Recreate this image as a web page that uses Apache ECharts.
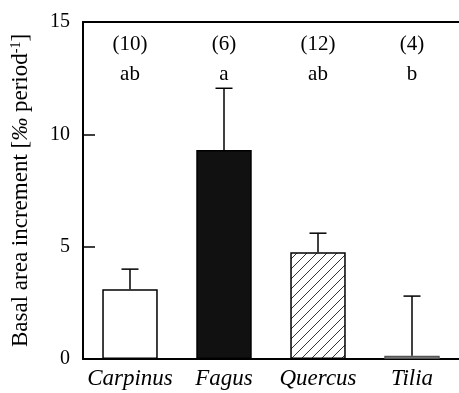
<!DOCTYPE html>
<html>
<head>
<meta charset="utf-8">
<script src="https://cdn.jsdelivr.net/npm/echarts@6/dist/echarts.min.js"></script>
<style>
  html, body { margin: 0; padding: 0; background: #fff; }
  #plot { width: 459px; height: 393px; }
</style>
</head>
<body>
<div id="plot"></div>
<script>
var species = ['Carpinus', 'Fagus', 'Quercus', 'Tilia'];
var increment = [3.1, 9.3, 4.75, 0.15];
var errorUp = [4.0, 12.05, 5.6, 2.8];
var sampleSizes = ['(10)', '(6)', '(12)', '(4)'];
var groupLetters = ['ab', 'a', 'ab', 'b'];

// hatch pattern for Quercus
function makeHatch() {
  var c = document.createElement('canvas');
  c.width = 10; c.height = 10;
  var ctx = c.getContext('2d');
  ctx.fillStyle = '#fff';
  ctx.fillRect(0, 0, 10, 10);
  ctx.strokeStyle = '#000';
  ctx.lineWidth = 0.8;
  ctx.beginPath();
  ctx.moveTo(0, 10); ctx.lineTo(10, 0);
  ctx.moveTo(-5, 5); ctx.lineTo(5, -5);
  ctx.moveTo(5, 15); ctx.lineTo(15, 5);
  ctx.stroke();
  return c;
}

var fills = ['#fff', '#111', { image: makeHatch(), repeat: 'repeat' }, '#c8c8c8'];
var borders = ['#000', '#000', '#000', '#555'];

var serif = 'Liberation Serif';

var myChart = echarts.init(document.getElementById('plot'));

var option = {
  animation: false,
  textStyle: { fontFamily: serif },
  grid: { left: 83, right: 0, top: 22, bottom: 34, outerBoundsMode: 'none' },
  xAxis: [{
    type: 'category',
    data: species,
    axisLine: { lineStyle: { color: '#000', width: 2 } },
    axisTick: { show: false },
    axisLabel: {
      interval: 0, hideOverlap: false,
      fontFamily: serif, fontStyle: 'italic', fontSize: 23, color: '#000', margin: 8
    }
  }, {
    type: 'category',
    position: 'top',
    data: species,
    axisLine: { show: true, lineStyle: { color: '#000', width: 2 } },
    axisTick: { show: false },
    axisLabel: { show: false }
  }],
  yAxis: {
    type: 'value',
    min: 0,
    max: 15,
    interval: 5,
    name: '{n|Basal area increment [}{i|‰}{n| period}{s|-1}{n|]}',
    nameLocation: 'middle',
    nameGap: 50,
    nameRotate: 90,
    nameTextStyle: {
      rich: {
        n: { fontFamily: serif, fontSize: 23, color: '#000' },
        i: { fontFamily: serif, fontSize: 23, fontStyle: 'italic', color: '#000' },
        s: { fontFamily: serif, fontSize: 14, color: '#000', verticalAlign: 'top', padding: [0, 0, 10, 0] }
      }
    },
    axisLine: { show: true, lineStyle: { color: '#000', width: 2 } },
    axisTick: { show: true, inside: true, length: 12, lineStyle: { color: '#000', width: 1.5 } },
    axisLabel: { fontFamily: serif, fontSize: 20, color: '#000', margin: 13 },
    splitLine: { show: false }
  },
  series: [{
    type: 'bar',
    data: increment.map(function (v, i) {
      return { value: v, itemStyle: { color: fills[i], borderColor: borders[i] } };
    }),
    barWidth: '59%',
    itemStyle: { borderWidth: 1.5 },
    z: 2
  }, {
    // error bars
    type: 'custom',
    data: increment.map(function (v, i) { return [i, v, errorUp[i]]; }),
    renderItem: function (params, api) {
      var base = api.coord([api.value(0), api.value(1)]);
      var top = api.coord([api.value(0), api.value(2)]);
      var half = 8.5;
      return {
        type: 'group',
        children: [{
          type: 'line',
          shape: { x1: base[0], y1: base[1], x2: top[0], y2: top[1] },
          style: { stroke: '#000', lineWidth: 1.5 }
        }, {
          type: 'line',
          shape: { x1: top[0] - half, y1: top[1], x2: top[0] + half, y2: top[1] },
          style: { stroke: '#000', lineWidth: 1.5 }
        }]
      };
    },
    z: 3
  }, {
    // sample sizes and group letters
    type: 'custom',
    data: species.map(function (s, i) { return [i]; }),
    renderItem: function (params, api) {
      var i = params.dataIndex;
      var p1 = api.coord([api.value(0), 14]);
      var p2 = api.coord([api.value(0), 12.65]);
      return {
        type: 'group',
        children: [{
          type: 'text',
          style: {
            x: p1[0], y: p1[1], text: sampleSizes[i],
            font: '21px "Liberation Serif"', fill: '#000',
            align: 'center', verticalAlign: 'middle'
          }
        }, {
          type: 'text',
          style: {
            x: p2[0], y: p2[1], text: groupLetters[i],
            font: '21px "Liberation Serif"', fill: '#000',
            align: 'center', verticalAlign: 'middle'
          }
        }]
      };
    },
    z: 4
  }]
};

myChart.setOption(option);
</script>
</body>
</html>
